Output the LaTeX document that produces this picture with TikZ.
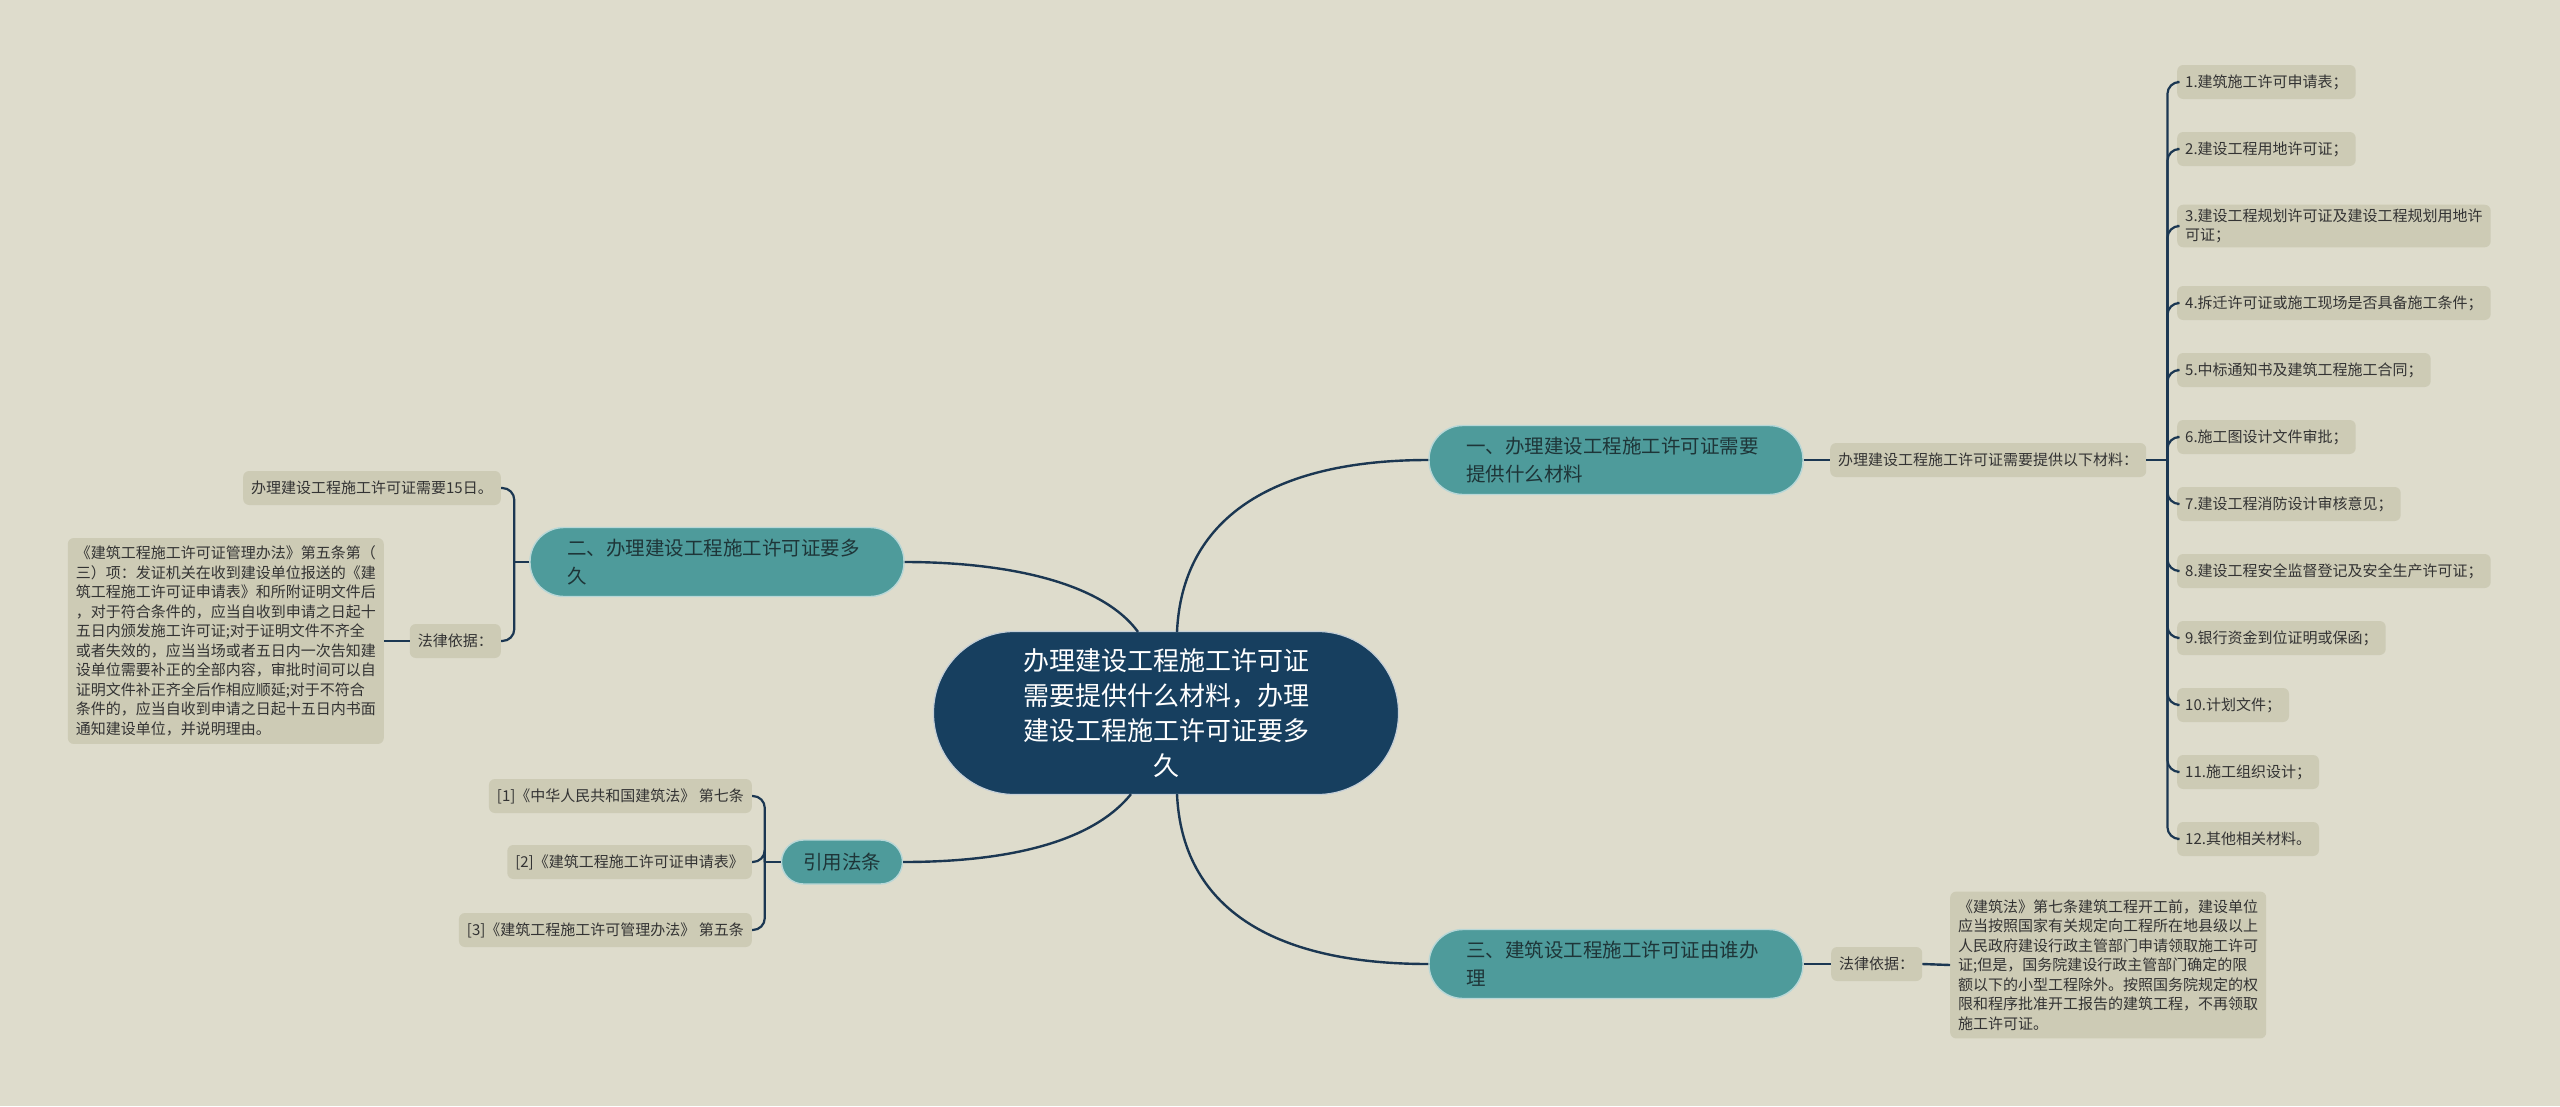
\documentclass[tikz,border=0pt]{standalone}
\usepackage{fontspec}
\setmainfont{Noto Sans CJK SC}
\usetikzlibrary{calc}
\definecolor{bg}{HTML}{DEDCCC}
\definecolor{navy}{HTML}{173F5F}
\definecolor{tealB}{HTML}{4E9B9B}
\definecolor{leafC}{HTML}{CDCBB5}
\definecolor{lineC}{HTML}{1B3752}
\definecolor{tealtext}{HTML}{1E3538}
\begin{document}
\begin{tikzpicture}[x=1pt,y=-1pt,
  conn/.style={draw=lineC, line width=2.4pt},
  brk/.style={draw=lineC, line width=2.2pt, rounded corners=12pt},
  rootbox/.style={fill=navy, draw=white!75!navy, line width=1.2pt, rounded corners=81pt,
    minimum width=465pt, minimum height=163pt, text=white, align=center, text width=292pt,
    font=\fontsize{26}{35}\selectfont, inner sep=0pt},
  branch/.style={fill=tealB, draw=white!60!tealB, line width=1.4pt, rounded corners=34pt,
    minimum height=69pt, text=tealtext, font=\fontsize{19.5}{28}\selectfont},
  branchwide/.style={branch, text width=300pt, align=left, inner xsep=37pt},
  leafbox/.style={fill=leafC, rounded corners=6pt, text=black!80, font=\fontsize{15}{19.5}\selectfont,
    minimum height=34pt, inner xsep=8pt, inner ysep=4pt, align=left},
  longbox/.style={leafbox, inner ysep=8pt}
]
\fill[bg] (0,0) rectangle (2560,1106);
\useasboundingbox (0,0) rectangle (2560,1106);

% root and branches
\node[rootbox] (root) at (1166,713) {办理建设工程施工许可证\\需要提供什么材料，办理\\建设工程施工许可证要多\\久};
\node[branchwide] (b1) at (1616,460) {一、办理建设工程施工许可证需要\\提供什么材料};
\node[branchwide] (b2) at (717,562) {二、办理建设工程施工许可证要多\\久};
\node[branchwide] (b3) at (1616,964) {三、建筑设工程施工许可证由谁办\\理};
\node[branch, minimum width=121pt, minimum height=44pt, rounded corners=22pt, inner xsep=0pt] (b4) at (842,862) {引用法条};

% branch 1
\node[leafbox, anchor=west] (p1) at (1830,460) {办理建设工程施工许可证需要提供以下材料：};
\node[leafbox, anchor=west] (i1) at (2177,82) {1.建筑施工许可申请表；};
\node[leafbox, anchor=west] (i2) at (2177,149) {2.建设工程用地许可证；};
\node[leafbox, anchor=west] (i3) at (2177,226) {3.建设工程规划许可证及建设工程规划用地许\\可证；};
\node[leafbox, anchor=west] (i4) at (2177,303) {4.拆迁许可证或施工现场是否具备施工条件；};
\node[leafbox, anchor=west] (i5) at (2177,370) {5.中标通知书及建筑工程施工合同；};
\node[leafbox, anchor=west] (i6) at (2177,437) {6.施工图设计文件审批；};
\node[leafbox, anchor=west] (i7) at (2177,504) {7.建设工程消防设计审核意见；};
\node[leafbox, anchor=west] (i8) at (2177,571) {8.建设工程安全监督登记及安全生产许可证；};
\node[leafbox, anchor=west] (i9) at (2177,638) {9.银行资金到位证明或保函；};
\node[leafbox, anchor=west] (i10) at (2177,705) {10.计划文件；};
\node[leafbox, anchor=west] (i11) at (2177,772) {11.施工组织设计；};
\node[leafbox, anchor=west] (i12) at (2177,839) {12.其他相关材料。};

% branch 2
\node[leafbox, anchor=east] (c21) at (501,488) {办理建设工程施工许可证需要15日。};
\node[leafbox, anchor=east] (l2) at (501,641) {法律依据：};
\node[longbox, anchor=east] (t2) at (384,641) {《建筑工程施工许可证管理办法》第五条第（\\三）项：发证机关在收到建设单位报送的《建\\筑工程施工许可证申请表》和所附证明文件后\\，对于符合条件的，应当自收到申请之日起十\\五日内颁发施工许可证;对于证明文件不齐全\\或者失效的，应当当场或者五日内一次告知建\\设单位需要补正的全部内容，审批时间可以自\\证明文件补正齐全后作相应顺延;对于不符合\\条件的，应当自收到申请之日起十五日内书面\\通知建设单位，并说明理由。};

% branch 3
\node[leafbox, anchor=west] (l3) at (1831,964) {法律依据：};
\node[longbox, anchor=west] (t3) at (1950,965) {《建筑法》第七条建筑工程开工前，建设单位\\应当按照国家有关规定向工程所在地县级以上\\人民政府建设行政主管部门申请领取施工许可\\证;但是，国务院建设行政主管部门确定的限\\额以下的小型工程除外。按照国务院规定的权\\限和程序批准开工报告的建筑工程，不再领取\\施工许可证。};

% branch 4
\node[leafbox, anchor=east] (r1) at (752,796) {[1]《中华人民共和国建筑法》 第七条};
\node[leafbox, anchor=east] (r2) at (752,862) {[2]《建筑工程施工许可证申请表》};
\node[leafbox, anchor=east] (r3) at (752,930) {[3]《建筑工程施工许可管理办法》 第五条};

% main connectors
\draw[conn] ($(root.north)+(11,1)$) .. controls (1182,520) and (1270,460) .. (b1.west);
\draw[conn] ($(root.south)+(11,-1)$) .. controls (1182,906) and (1270,964) .. (b3.west);
\draw[conn] ($(root.north)+(-28,1)$) .. controls (1100,580) and (1000,562) .. (b2.east);
\draw[conn] ($(root.south)+(-35,-1)$) .. controls (1090,845) and (1000,862) .. (b4.east);

% branch 1 connectors
\draw[conn] (b1.east) -- (p1.west);
\coordinate (bus1) at ($(p1.east)+(21,0)$);
\draw[brk] (p1.east) -- (bus1);
\foreach \i in {i1,i2,i3,i4,i5,i6,i7,i8,i9,i10,i11,i12}
  \draw[brk] (bus1) |- (\i.west);

% branch 2 connectors
\coordinate (bus2) at ($(b2.west)+(-15,0)$);
\draw[brk] (b2.west) -- (bus2);
\draw[brk] (bus2) |- (c21.east);
\draw[brk] (bus2) |- (l2.east);
\draw[conn] (l2.west) -- (t2.east);

% branch 3 connectors
\draw[conn] (b3.east) -- (l3.west);
\draw[conn] (l3.east) -- (t3.west);

% branch 4 connectors
\coordinate (bus4) at ($(b4.west)+(-16,0)$);
\draw[brk] (b4.west) -- (bus4);
\foreach \r in {r1,r2,r3}
  \draw[brk] (bus4) |- (\r.east);
\end{tikzpicture}
\end{document}
